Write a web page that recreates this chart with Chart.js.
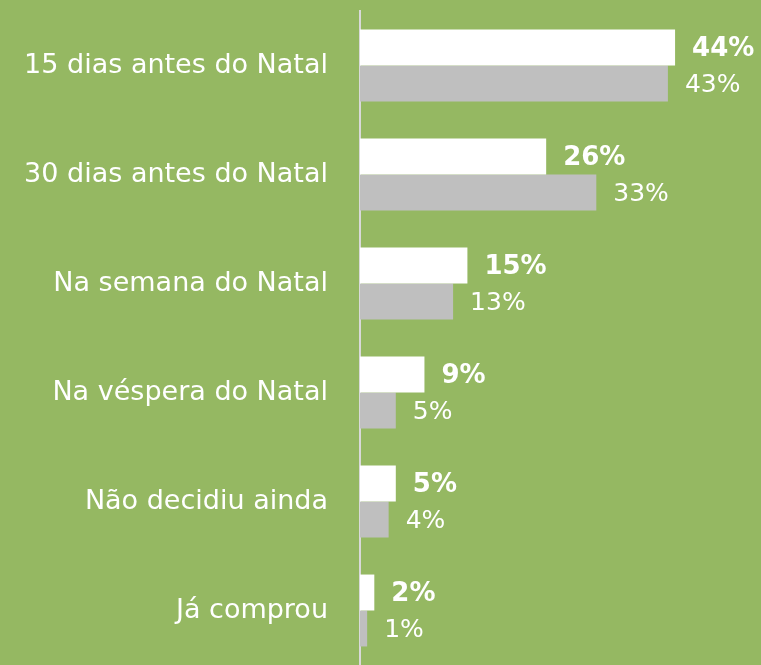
<!DOCTYPE html>
<html>
<head>
<meta charset="utf-8">
<script src="https://cdn.jsdelivr.net/npm/chart.js@4/dist/chart.umd.min.js"></script>
<style>
  html, body { margin: 0; padding: 0; background: #95B862; }
  #wrap { width: 761px; height: 665px; }
</style>
</head>
<body>
<div id="wrap"><canvas id="c"></canvas></div>
<script>
const categories = ['15 dias antes do Natal', '30 dias antes do Natal', 'Na semana do Natal', 'Na véspera do Natal', 'Não decidiu ainda', 'Já comprou'];
const serieAtual = [44, 26, 15, 9, 5, 2];
const serieAnterior = [43, 33, 13, 5, 4, 1];

const FONT = "'DejaVu Sans', sans-serif";

// desenha os valores à direita das barras
const valueLabels = {
  id: 'valueLabels',
  afterDatasetsDraw(chart) {
    const ctx = chart.ctx;
    ctx.save();
    ctx.textAlign = 'left';
    ctx.textBaseline = 'middle';
    ctx.fillStyle = '#FFFFFF';
    chart.data.datasets.forEach((ds, i) => {
      const meta = chart.getDatasetMeta(i);
      ctx.font = i === 0 ? 'bold 26px ' + FONT : '25px ' + FONT;
      meta.data.forEach((bar, j) => {
        ctx.fillText(ds.data[j] + '%', bar.x + 17, bar.y + 2);
      });
    });
    ctx.restore();
  }
};

new Chart(document.getElementById('c'), {
  type: 'bar',
  data: {
    labels: categories,
    datasets: [
      { data: serieAtual, backgroundColor: '#FFFFFF', barPercentage: 1, categoryPercentage: 0.66 },
      { data: serieAnterior, backgroundColor: '#BFBFBF', barPercentage: 1, categoryPercentage: 0.66 }
    ]
  },
  options: {
    indexAxis: 'y',
    responsive: true,
    maintainAspectRatio: false,
    animation: false,
    layout: { padding: { top: 11, right: 0, bottom: 0, left: 0 } },
    plugins: { legend: { display: false }, tooltip: { enabled: false } },
    scales: {
      x: { min: 0, max: 56, display: false },
      y: {
        afterFit(scale) {
          scale.width = 360;
          scale.paddingTop = 0;
          scale.paddingBottom = 0;
        },
        grid: { display: false, drawTicks: false },
        border: { display: true, color: '#D9D9D9', width: 2 },
        ticks: { color: '#FFFFFF', padding: 32, font: { family: FONT, size: 27 } }
      }
    }
  },
  plugins: [valueLabels]
});
</script>
</body>
</html>
